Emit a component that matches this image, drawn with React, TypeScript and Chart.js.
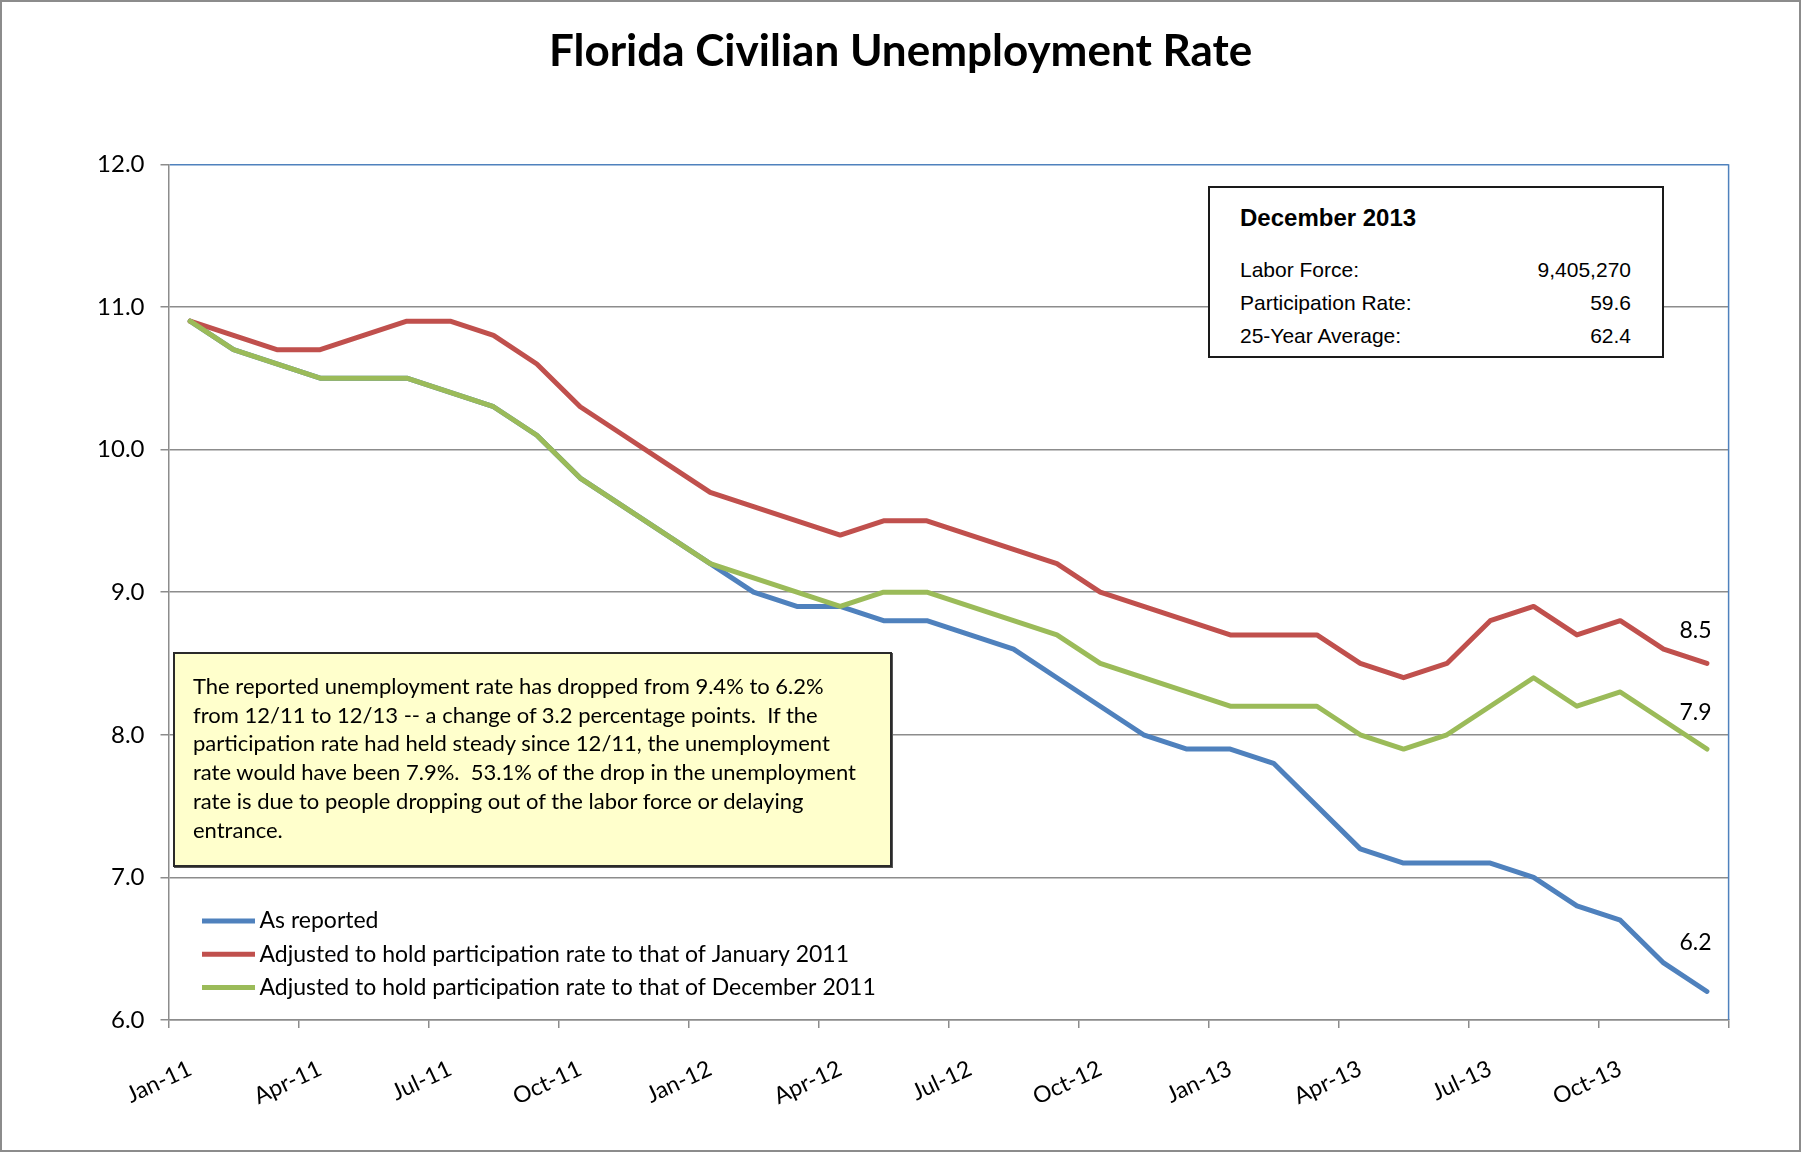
import React, { useEffect, useRef } from 'react';
import { Chart, registerables } from 'chart.js';

Chart.register(...registerables);

// ---------- DATA ----------
const months = [
  'Jan-11', 'Feb-11', 'Mar-11', 'Apr-11', 'May-11', 'Jun-11', 'Jul-11', 'Aug-11', 'Sep-11', 'Oct-11', 'Nov-11', 'Dec-11',
  'Jan-12', 'Feb-12', 'Mar-12', 'Apr-12', 'May-12', 'Jun-12', 'Jul-12', 'Aug-12', 'Sep-12', 'Oct-12', 'Nov-12', 'Dec-12',
  'Jan-13', 'Feb-13', 'Mar-13', 'Apr-13', 'May-13', 'Jun-13', 'Jul-13', 'Aug-13', 'Sep-13', 'Oct-13', 'Nov-13', 'Dec-13',
];

const asReported = [
  10.9, 10.7, 10.6, 10.5, 10.5, 10.5, 10.4, 10.3, 10.1, 9.8, 9.6, 9.4,
  9.2, 9.0, 8.9, 8.9, 8.8, 8.8, 8.7, 8.6, 8.4, 8.2, 8.0, 7.9,
  7.9, 7.8, 7.5, 7.2, 7.1, 7.1, 7.1, 7.0, 6.8, 6.7, 6.4, 6.2,
];

const heldJan2011 = [
  10.9, 10.8, 10.7, 10.7, 10.8, 10.9, 10.9, 10.8, 10.6, 10.3, 10.1, 9.9,
  9.7, 9.6, 9.5, 9.4, 9.5, 9.5, 9.4, 9.3, 9.2, 9.0, 8.9, 8.8,
  8.7, 8.7, 8.7, 8.5, 8.4, 8.5, 8.8, 8.9, 8.7, 8.8, 8.6, 8.5,
];

const heldDec2011 = [
  10.9, 10.7, 10.6, 10.5, 10.5, 10.5, 10.4, 10.3, 10.1, 9.8, 9.6, 9.4,
  9.2, 9.1, 9.0, 8.9, 9.0, 9.0, 8.9, 8.8, 8.7, 8.5, 8.4, 8.3,
  8.2, 8.2, 8.2, 8.0, 7.9, 8.0, 8.2, 8.4, 8.2, 8.3, 8.1, 7.9,
];

const seriesNames = [
  'As reported',
  'Adjusted to hold participation rate to that of January 2011',
  'Adjusted to hold participation rate to that of December 2011',
];

const yMin = 6;
const yMax = 12;
const yStep = 1;

const chartTitle = 'Florida Civilian Unemployment Rate';

const infoTitle = 'December 2013';
const infoLabels = ['Labor Force:', 'Participation Rate:', '25-Year Average:'];
const infoValues = ['9,405,270', '59.6', '62.4'];

const noteLines = [
  'The reported unemployment rate has dropped from 9.4% to 6.2%',
  'from 12/11 to 12/13 -- a change of 3.2 percentage points.  If the',
  'participation rate had held steady since 12/11, the unemployment',
  'rate would have been 7.9%.  53.1% of the drop in the unemployment',
  'rate is due to people dropping out of the labor force or delaying',
  'entrance.',
];

// ---------- STYLE ----------
const BLUE = '#4F81BD';
const RED = '#C0504D';
const GREEN = '#9BBB59';
const GRAY = '#8C8C8C';
const FONT = 'Lato, "Noto Sans", sans-serif';
const endLabelOffsets = [-49, -33, -36];

const plotBorderPlugin = {
  id: 'plotBorder',
  beforeDatasetsDraw(chart: any) {
    const { ctx, chartArea } = chart;
    ctx.save();
    ctx.strokeStyle = BLUE;
    ctx.lineWidth = 1.5;
    ctx.beginPath();
    ctx.moveTo(chartArea.right, chartArea.top);
    ctx.lineTo(chartArea.right, chartArea.bottom);
    ctx.stroke();
    ctx.restore();
  },
};

const endLabelPlugin = {
  id: 'endLabels',
  afterDatasetsDraw(chart: any) {
    const { ctx } = chart;
    ctx.save();
    ctx.font = `23px ${FONT}`;
    ctx.fillStyle = '#000';
    ctx.textAlign = 'center';
    ctx.textBaseline = 'middle';
    chart.data.datasets.forEach((ds: any, i: number) => {
      const meta = chart.getDatasetMeta(i);
      const last = meta.data[meta.data.length - 1];
      if (!last) return;
      const v = ds.data[ds.data.length - 1];
      ctx.fillText(Number(v).toFixed(1), last.x - 11.5, last.y + endLabelOffsets[i]);
    });
    ctx.restore();
  },
};

const insideLegendPlugin = {
  id: 'insideLegend',
  afterDraw(chart: any) {
    const { ctx, chartArea } = chart;
    const x0 = chartArea.left + 33.5;
    const x1 = x0 + 53;
    const y0 = chartArea.bottom - 99;
    ctx.save();
    ctx.font = `23px ${FONT}`;
    ctx.textBaseline = 'middle';
    ctx.textAlign = 'left';
    chart.data.datasets.forEach((ds: any, i: number) => {
      const y = y0 + i * 33.3;
      ctx.strokeStyle = ds.borderColor;
      ctx.lineWidth = 5;
      ctx.lineCap = 'butt';
      ctx.beginPath();
      ctx.moveTo(x0, y);
      ctx.lineTo(x1, y);
      ctx.stroke();
      ctx.fillStyle = '#000';
      ctx.fillText(ds.label, x1 + 4.5, y);
    });
    ctx.restore();
  },
};

export default function App() {
  const canvasRef = useRef<HTMLCanvasElement | null>(null);

  useEffect(() => {
    if (!canvasRef.current) return;
    Chart.defaults.font.family = FONT;
    const chart = new Chart(canvasRef.current, {
      type: 'line',
      data: {
        labels: months,
        datasets: [
          { label: seriesNames[0], data: asReported, borderColor: BLUE, order: 3 },
          { label: seriesNames[1], data: heldJan2011, borderColor: RED, order: 2 },
          { label: seriesNames[2], data: heldDec2011, borderColor: GREEN, order: 1 },
        ].map((d) => ({
          ...d,
          backgroundColor: d.borderColor,
          borderWidth: 5,
          pointRadius: 0,
          pointHoverRadius: 0,
          tension: 0,
          borderCapStyle: 'round' as const,
          borderJoinStyle: 'round' as const,
          fill: false,
        })),
      },
      options: {
        animation: false,
        responsive: true,
        maintainAspectRatio: false,
        layout: { padding: { left: 72.5, right: 72.4, top: 0, bottom: 32 } },
        plugins: {
          legend: { display: false },
          tooltip: { enabled: false },
          title: {
            display: true,
            text: chartTitle,
            color: '#000',
            font: { family: FONT, size: 44, weight: 'bold' },
            padding: { top: 25.5, bottom: 86 },
          },
        },
        scales: {
          x: {
            type: 'category',
            offset: true,
            grid: {
              display: true,
              drawOnChartArea: false,
              drawTicks: true,
              tickLength: 8,
              offset: true,
              lineWidth: 1.5,
              color: (ctx: any) =>
                ctx.index === undefined || ctx.index % 3 === 0 ? GRAY : 'rgba(0,0,0,0)',
            },
            border: { display: true, color: GRAY, width: 1.5 },
            ticks: {
              autoSkip: false,
              maxRotation: 25,
              minRotation: 25,
              padding: 27,
              color: '#000',
              font: { family: FONT, size: 23 },
              callback: (_v: any, i: number) => (i % 3 === 0 ? months[i] : ''),
            },
            afterFit: (s: any) => {
              s.height = 100;
            },
          },
          y: {
            min: yMin,
            max: yMax,
            ticks: {
              stepSize: yStep,
              padding: 16,
              color: '#000',
              font: { family: FONT, size: 24 },
              callback: (v: any) => Number(v).toFixed(1),
            },
            grid: {
              lineWidth: 1.5,
              tickLength: 8,
              tickColor: GRAY,
              color: (ctx: any) => (ctx.tick && ctx.tick.value === yMax ? BLUE : GRAY),
            },
            border: { display: true, color: GRAY, width: 1.5 },
            afterFit: (s: any) => {
              s.width = 96;
            },
          },
        },
      } as any,
      plugins: [plotBorderPlugin, endLabelPlugin, insideLegendPlugin],
    });
    return () => chart.destroy();
  }, []);

  return (
    <div
      style={{
        position: 'absolute',
        left: 0,
        top: 0,
        width: 1801,
        height: 1152,
        background: '#fff',
        overflow: 'hidden',
      }}
    >
      <div style={{ position: 'absolute', left: 0, top: 0, width: 1801, height: 1152 }}>
        <canvas ref={canvasRef} />
      </div>
      <div
        style={{
          position: 'absolute',
          left: 0,
          top: 0,
          width: 1801,
          height: 1152,
          boxSizing: 'border-box',
          border: '2px solid #8C8C8C',
          pointerEvents: 'none',
        }}
      />
      {/* Info box */}
      <div
        style={{
          position: 'absolute',
          left: 1208,
          top: 186,
          width: 456,
          height: 172,
          boxSizing: 'border-box',
          border: '2px solid #1a1a1a',
          background: '#fff',
          fontFamily: '"Liberation Sans", Arial, sans-serif',
          color: '#000',
        }}
      >
        <div
          style={{
            position: 'absolute',
            left: 30,
            top: 15,
            fontSize: 24,
            lineHeight: '30px',
            fontWeight: 'bold',
            whiteSpace: 'nowrap',
          }}
        >
          {infoTitle}
        </div>
        {infoLabels.map((lab, i) => (
          <div
            key={lab}
            style={{
              position: 'absolute',
              left: 30,
              right: 31,
              top: 65 + i * 33,
              fontSize: 21,
              lineHeight: '33px',
              whiteSpace: 'nowrap',
              display: 'flex',
              justifyContent: 'space-between',
            }}
          >
            <span>{lab}</span>
            <span>{infoValues[i]}</span>
          </div>
        ))}
      </div>
      {/* Note box */}
      <div
        style={{
          position: 'absolute',
          left: 173,
          top: 652,
          width: 719,
          height: 215,
          boxSizing: 'border-box',
          border: '2px solid #2a2a2a',
          boxShadow: '1px 1px 0 #555',
          background: '#FFFFCC',
          fontFamily: FONT,
          color: '#000',
        }}
      >
        <div style={{ position: 'absolute', left: 18, top: 18, fontSize: 22, lineHeight: '28.7px' }}>
          {noteLines.map((l, i) => (
            <div key={i} style={{ whiteSpace: 'pre' }}>
              {l}
            </div>
          ))}
        </div>
      </div>
    </div>
  );
}
